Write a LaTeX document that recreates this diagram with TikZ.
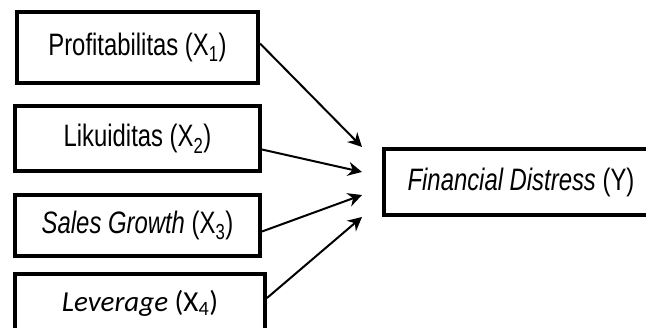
\documentclass[tikz,border=0pt]{standalone}
\usepackage{fontspec}
\setmainfont{Liberation Sans}[FakeStretch=0.77]
\newfontfamily\levfont{Carlito}
\usetikzlibrary{arrows.meta}

\begin{document}
\begin{tikzpicture}[x=1pt,y=-1pt]
	\useasboundingbox (0,0) rectangle (646,328);
	\begin{scope}[every node/.style={rectangle,draw,line width=4pt,font=\fontsize{31}{34}\selectfont,inner sep=0pt}]
		\node[minimum width=241pt,minimum height=71pt] (X1) at (137.5,47.5) {Profitabilitas (X\textsubscript{1})};
		\node[minimum width=245pt,minimum height=65pt] (X2) at (137.5,138.5) {Likuiditas (X\textsubscript{2})};
		\node[minimum width=245pt,minimum height=61pt] (X3) at (137.5,225.5) {\textit{Sales Growth} (X\textsubscript{3})};
		\node[minimum width=250pt,minimum height=58pt] (X4) at (140,303) {\levfont\fontsize{29}{34}\selectfont\textit{Leverage} (X\textsubscript{4})};
		\node[minimum width=274pt,minimum height=66pt] (Y) at (521,182) {\textit{Financial Distress} (Y)};
	\end{scope}
	
	\coordinate (T1) at (362,147);
	\coordinate (T2) at (362,172);
	\coordinate (T3) at (362,195);
	\coordinate (T4) at (362,217);
	
	\begin{scope}[line width=2pt,-{Stealth[length=14pt,width=14pt]}]
		\draw ([yshift=4pt]X1.east) -- (T1);
		\draw ([yshift=-11pt]X2.east) -- (T2);
		\draw ([yshift=-6pt]X3.east) -- (T3);
		\draw ([yshift=5pt]X4.east) -- (T4);
	\end{scope}
\end{tikzpicture}
\end{document}
